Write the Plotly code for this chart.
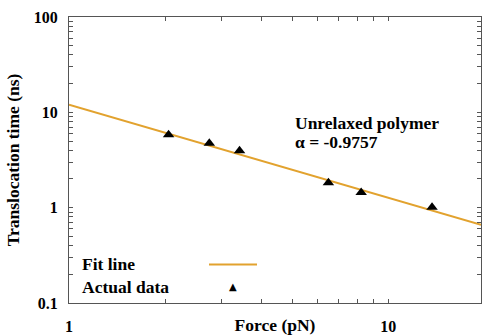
import plotly.graph_objects as go
import numpy as np

# Data
force = [2.05, 2.75, 3.42, 6.49, 8.22, 13.7]
time_ns = [5.82, 4.75, 3.95, 1.83, 1.44, 1.01]
fit_x = [1.0, 19.5]
fit_y = [12.0, 0.663]
x_tickvals = [1, 2, 3, 4, 5, 6, 7, 8, 9, 10, 20]
x_ticktext = ["1", "", "", "", "", "", "", "", "", "10", ""]
y_tickvals = [0.1 * m * 10 ** d for d in range(3) for m in range(1, 10)] + [100]
y_ticktext = ["0.1" if v == 0.1 else "1" if v == 1 else "10" if v == 10 else "100" if v == 100 else "" for v in [round(x, 6) for x in y_tickvals]]

FONT = "Liberation Serif"
fig = go.Figure()
fig.add_trace(go.Scatter(x=fit_x, y=fit_y, mode="lines",
                         line=dict(color="#E2A22E", width=2), showlegend=False))
fig.add_trace(go.Scatter(x=force, y=time_ns, mode="markers",
                         marker=dict(symbol="triangle-up", size=10, color="black"),
                         showlegend=False))

axis_common = dict(showline=True, linecolor="#555555", linewidth=1, mirror="ticks",
                   ticks="inside", ticklen=4, tickcolor="#555555", showgrid=False,
                   zeroline=False, automargin=False,
                   tickfont=dict(family=FONT, size=16, color="black", weight="bold"))
fig.update_xaxes(type="log", range=[0, np.log10(19.5)], tickvals=x_tickvals,
                 ticktext=x_ticktext, ticklabelstandoff=9,
                 title=dict(text="<b>Force (pN)</b>", font=dict(family=FONT, size=17.5, color="black"),
                            standoff=3),
                 **axis_common)
fig.update_yaxes(type="log", range=[-1, 2], tickvals=y_tickvals, ticktext=y_ticktext,
                 ticklabelstandoff=7,
                 title=dict(text="<b>Translocation time (ns)</b>", font=dict(family=FONT, size=17.5, color="black"),
                            standoff=9),
                 **axis_common)

annots = [
    dict(x=293, y=123, text="<b>Unrelaxed polymer</b>"),
    dict(x=293, y=142, text="<b>α = -0.9757</b>"),
    dict(x=80, y=264, text="<b>Fit line</b>"),
    dict(x=80, y=287, text="<b>Actual data</b>"),
]
W, H = 482, 335
L, R, T, B = 69, 1, 17, 32
pw, ph = W - L - R, H - T - B
annotations = []
for a in annots:
    annotations.append(dict(xref="paper", yref="paper",
                            x=(a["x"] - L) / pw, y=1 - (a["y"] - T) / ph,
                            xanchor="left", yanchor="middle", showarrow=False,
                            text=a["text"], font=dict(family=FONT, size=17.5, color="black")))
annotations.append(dict(xref="paper", yref="paper", x=(233 - L) / pw, y=1 - (286 - T) / ph,
                        xanchor="center", yanchor="middle", showarrow=False, text="▲",
                        font=dict(family="DejaVu Sans", size=10, color="black")))
shapes = [dict(type="line", xref="paper", yref="paper",
               x0=(209 - L) / pw, x1=(257 - L) / pw, y0=1 - (264.5 - T) / ph, y1=1 - (264.5 - T) / ph,
               line=dict(color="#E2A22E", width=2))]

fig.update_layout(width=W, height=H, margin=dict(l=L, r=R, t=T, b=B),
                  paper_bgcolor="white", plot_bgcolor="white",
                  annotations=annotations, shapes=shapes, showlegend=False)
fig.write_html("out.html")
